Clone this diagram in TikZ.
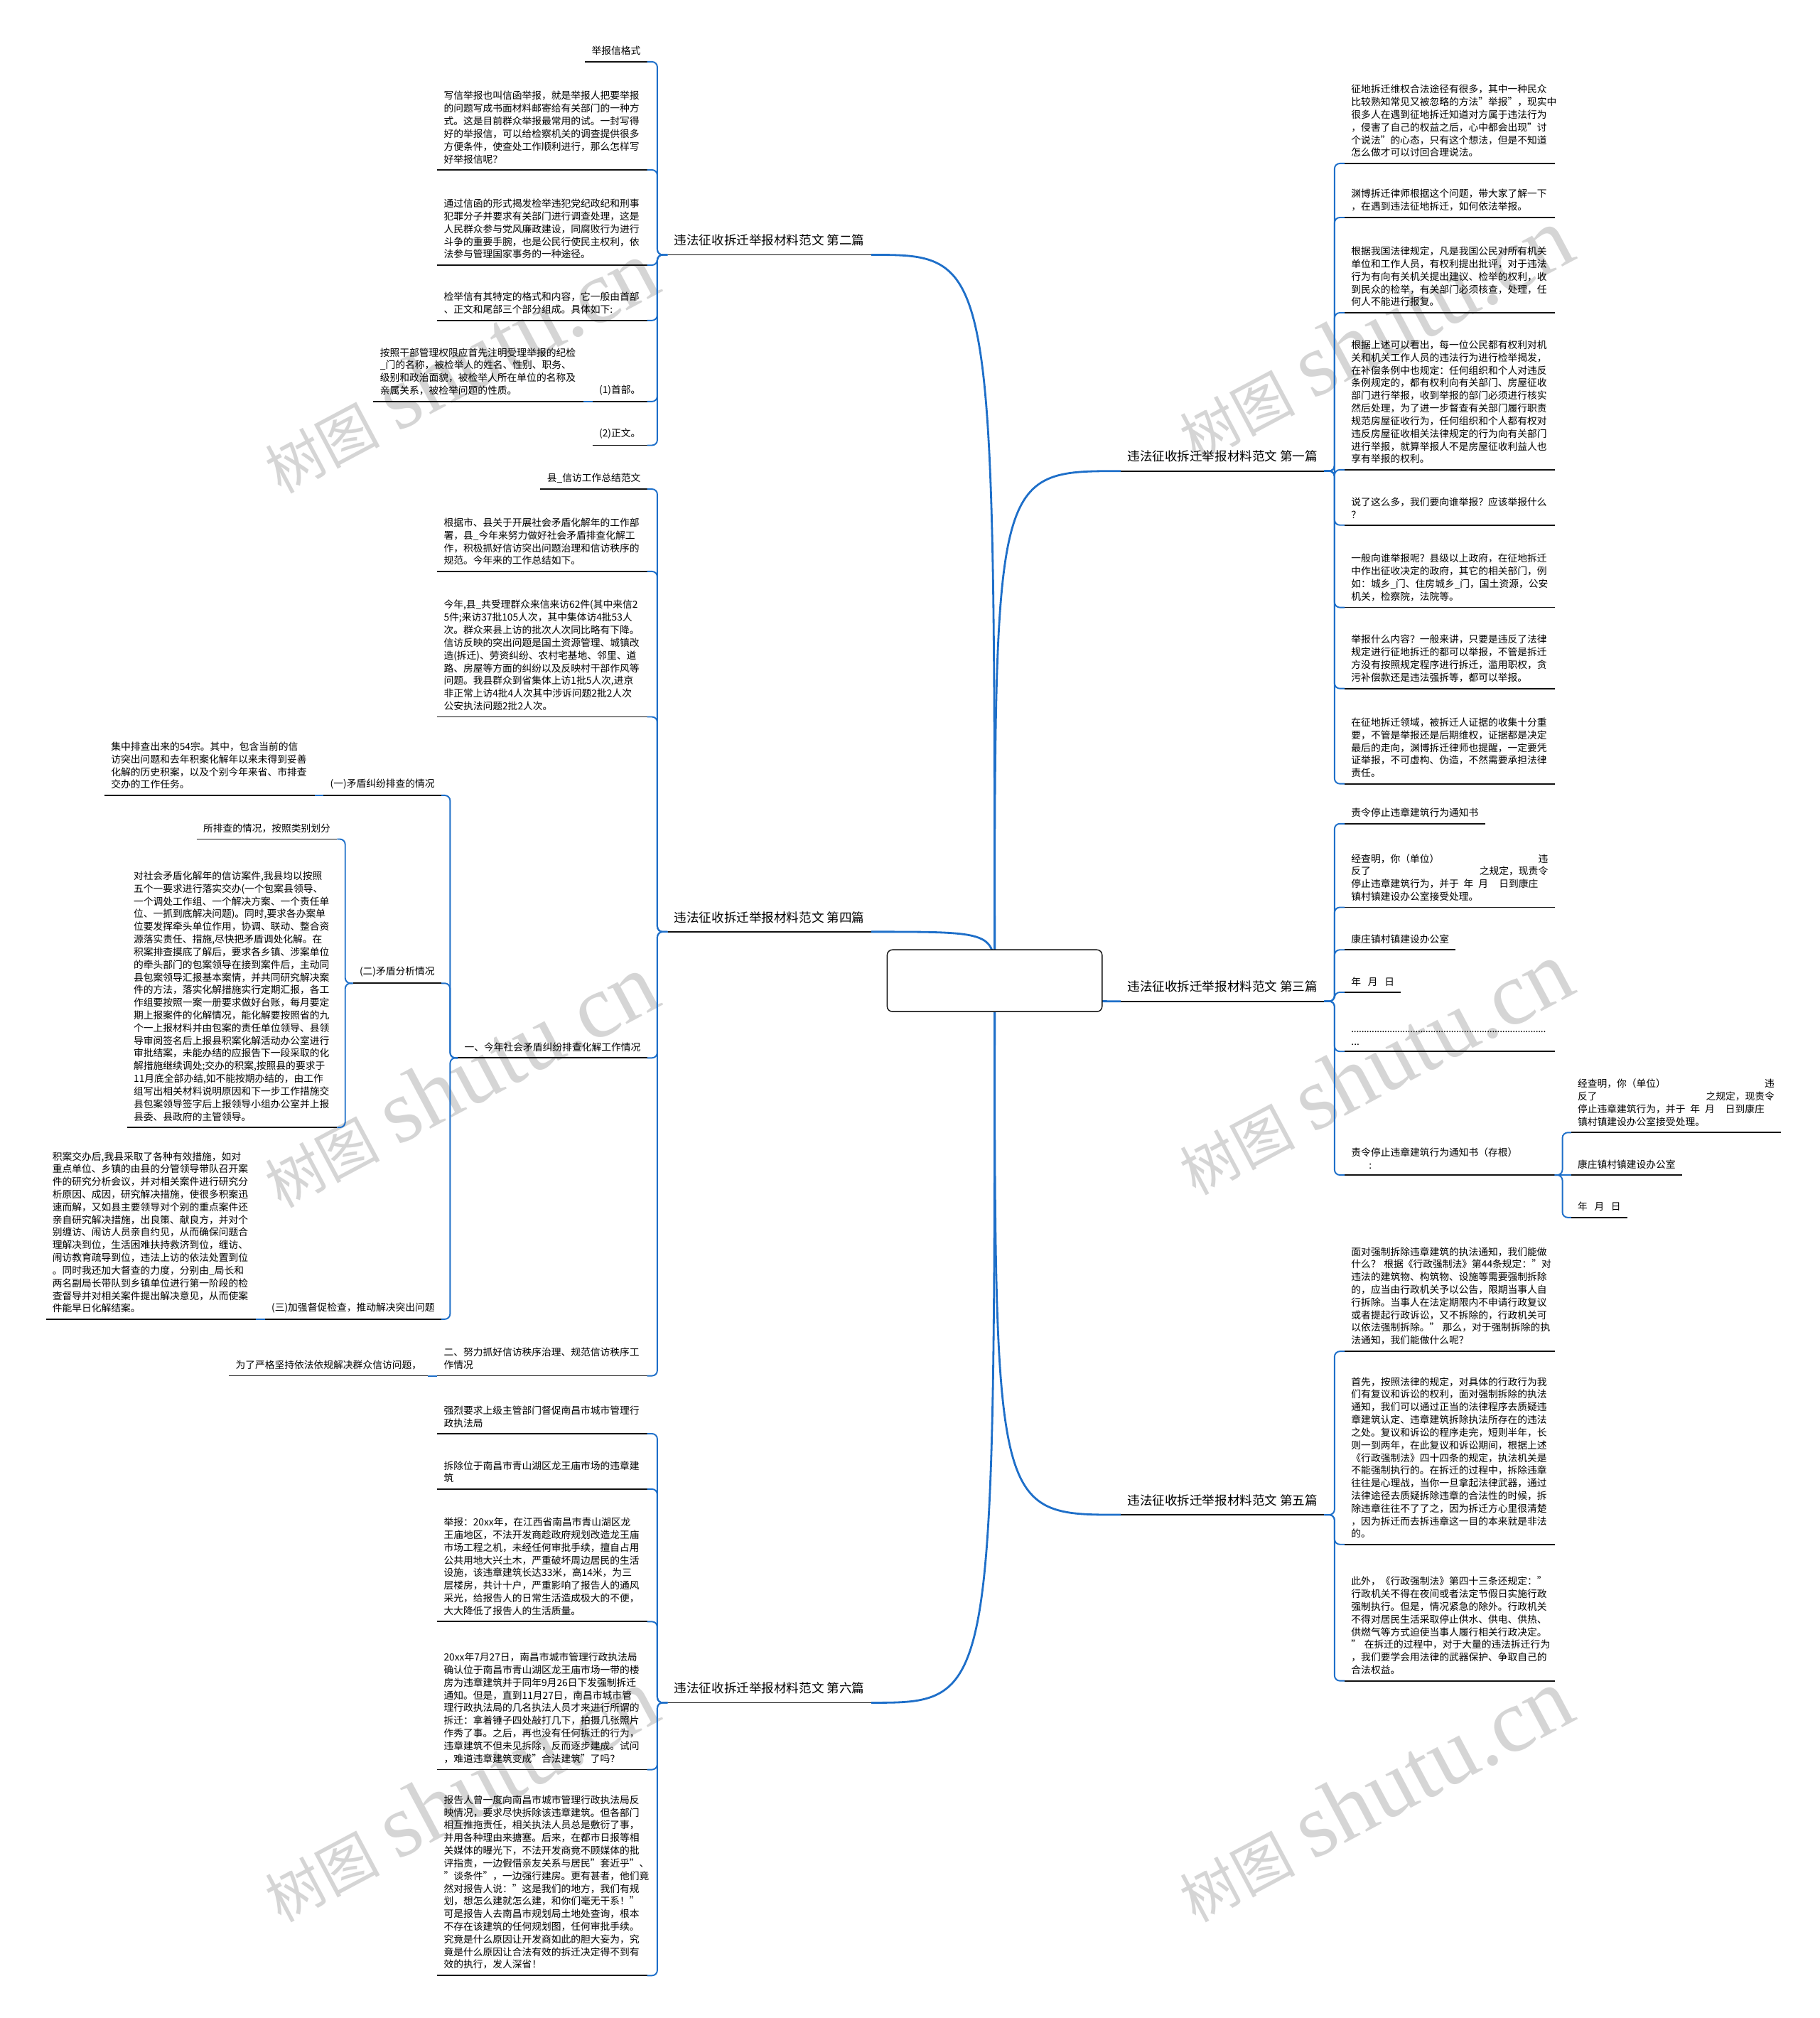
\documentclass[tikz,border=0pt]{standalone}
\usepackage{fontspec}
\setmainfont{Noto Sans CJK SC}
\newfontfamily\marcafont{Liberation Serif}
\usepackage{tikz}
\usetikzlibrary{calc,positioning}
\definecolor{azul}{HTML}{1E6FC9}
\definecolor{tinta}{HTML}{111111}
\definecolor{marcagris}{HTML}{B4B4B4}
\newcommand\hojafont{\fontsize{7.83pt}{10.14pt}\selectfont}
\newcommand\temafont{\fontsize{10pt}{12pt}\selectfont}
\tikzset{
  raiz/.style={draw=tinta,fill=white,rounded corners=1.5mm,line width=0.8pt,minimum width=60.5mm,minimum height=17.4mm},
  subrayado/.style={draw=tinta,line width=1pt},
  hoja/.style={font=\hojafont,align=left,inner xsep=1.81mm,inner ysep=1.7mm,append after command={(\tikzlastnode.south west) edge[subrayado] (\tikzlastnode.south east)}},
  parr/.style={hoja,text width=157.5pt},
  tema/.style={hoja,font=\temafont,inner ysep=2.4mm},
  izq/.style={anchor=south east},
  der/.style={anchor=south west},
  tronco/.style={draw=azul,line width=1.6pt},
  rama/.style={draw=azul,line width=1.1pt,rounded corners=1.5mm},
  marca/.style={text=marcagris,opacity=0.55,rotate=28,inner sep=0pt},
}

\begin{document}
\begin{tikzpicture}[x=0.3621mm,y=-0.3621mm]
\useasboundingbox (0,0) rectangle (1414,1568);
\fill[white] (0,0) rectangle (1414,1568);
\foreach \x/\y [count=\i] in {357/285,1068/260,357/840,1068/830,357/1395,1068/1395}
  \node[marca] (marca\i) at (\x,\y) {\fontsize{46pt}{46pt}\selectfont 树图\hspace{14pt}\marcafont\fontsize{72pt}{72pt}\selectfont shutu.cn};
\coordinate (rc) at (773,762);
\node[tema,izq] (b2) at (677,198) {违法征收拆迁举报材料范文 第二篇};
\node[tema,izq] (b4) at (677,724) {违法征收拆迁举报材料范文 第四篇};
\node[tema,izq] (b6) at (677,1323) {违法征收拆迁举报材料范文 第六篇};
\node[tema,der] (b1) at (871,366) {违法征收拆迁举报材料范文 第一篇};
\node[tema,der] (b3) at (871,778) {违法征收拆迁举报材料范文 第三篇};
\node[tema,der] (b5) at (871,1177) {违法征收拆迁举报材料范文 第五篇};
\node[hoja,izq] (b2a) at (503,48) {举报信格式};
\node[parr,izq] (b2b) at (503,132) {写信举报也叫信函举报，就是举报人把要举报\\
的问题写成书面材料邮寄给有关部门的一种方\\
式。这是目前群众举报最常用的试。一封写得\\
好的举报信，可以给检察机关的调查提供很多\\
方便条件，使查处工作顺利进行，那么怎样写\\
好举报信呢？};
\node[parr,izq] (b2c) at (503,206) {通过信函的形式揭发检举违犯党纪政纪和刑事\\
犯罪分子并要求有关部门进行调查处理，这是\\
人民群众参与党风廉政建设，同腐败行为进行\\
斗争的重要手腕，也是公民行使民主权利，依\\
法参与管理国家事务的一种途径。};
\node[parr,izq] (b2d) at (503,249) {检举信有其特定的格式和内容，它一般由首部\\
、正文和尾部三个部分组成。具体如下:};
\node[hoja,izq] (b2e) at (503,312) {(1)首部。};
\node[parr,izq] (b2e1) at ([shift={(-7,0)}]b2e.south west) {按照干部管理权限应首先注明受理举报的纪检\\
\_门的名称，被检举人的姓名、性别、职务、\\
级别和政治面貌，被检举人所在单位的名称及\\
亲属关系，被检举问题的性质。};
\node[hoja,izq] (b2f) at (503,346) {(2)正文。};
\node[hoja,izq] (b4a) at (503,380) {县\_信访工作总结范文};
\node[parr,izq] (b4b) at (503,444) {根据市、县关于开展社会矛盾化解年的工作部\\
署，县\_今年来努力做好社会矛盾排查化解工\\
作，积极抓好信访突出问题治理和信访秩序的\\
规范。今年来的工作总结如下。};
\node[parr,izq] (b4c) at (503,557) {今年,县\_共受理群众来信来访62件(其中来信2\\
5件;来访37批105人次，其中集体访4批53人\\
次。群众来县上访的批次人次同比略有下降。\\
信访反映的突出问题是国土资源管理、城镇改\\
造(拆迁)、劳资纠纷、农村宅基地、邻里、道\\
路、房屋等方面的纠纷以及反映村干部作风等\\
问题。我县群众到省集体上访1批5人次,进京\\
非正常上访4批4人次其中涉诉问题2批2人次\\
公安执法问题2批2人次。};
\node[hoja,izq] (b4d) at (503,822) {一、今年社会矛盾纠纷排查化解工作情况};
\node[hoja,izq] (b4d1) at (343,618) {(一)矛盾纠纷排查的情况};
\node[parr,izq] (b4d1a) at ([shift={(-7,0)}]b4d1.south west) {集中排查出来的54宗。其中，包含当前的信\\
访突出问题和去年积案化解年以来未得到妥善\\
化解的历史积案，以及个别今年来省、市排查\\
交办的工作任务。};
\node[hoja,izq] (b4d2) at (343,764) {(二)矛盾分析情况};
\node[hoja,izq] (b4d2a) at (262,652) {所排查的情况，按照类别划分};
\node[parr,izq] (b4d2b) at (262,876) {对社会矛盾化解年的信访案件,我县均以按照\\
五个一要求进行落实交办(一个包案县领导、\\
一个调处工作组、一个解决方案、一个责任单\\
位、一抓到底解决问题)。同时,要求各办案单\\
位要发挥牵头单位作用，协调、联动、整合资\\
源落实责任、措施,尽快把矛盾调处化解。在\\
积案排查摸底了解后，要求各乡镇、涉案单位\\
的牵头部门的包案领导在接到案件后，主动同\\
县包案领导汇报基本案情，并共同研究解决案\\
件的方法，落实化解措施实行定期汇报，各工\\
作组要按照一案一册要求做好台账，每月要定\\
期上报案件的化解情况，能化解要按照省的九\\
个一上报材料并由包案的责任单位领导、县领\\
导审阅签名后上报县积案化解活动办公室进行\\
审批结案，未能办结的应报告下一段采取的化\\
解措施继续调处;交办的积案,按照县的要求于\\
11月底全部办结,如不能按期办结的，由工作\\
组写出相关材料说明原因和下一步工作措施交\\
县包案领导签字后上报领导小组办公室并上报\\
县委、县政府的主管领导。};
\node[hoja,izq] (b4d3) at (343,1025) {(三)加强督促检查，推动解决突出问题};
\node[parr,izq] (b4d3a) at ([shift={(-7,0)}]b4d3.south west) {积案交办后,我县采取了各种有效措施，如对\\
重点单位、乡镇的由县的分管领导带队召开案\\
件的研究分析会议，并对相关案件进行研究分\\
析原因、成因，研究解决措施，使很多积案迅\\
速而解，又如县主要领导对个别的重点案件还\\
亲自研究解决措施，出良策、献良方，并对个\\
别缠访、闹访人员亲自约见，从而确保问题合\\
理解决到位，生活困难扶持救济到位，缠访、\\
闹访教育疏导到位，违法上访的依法处置到位\\
。同时我还加大督查的力度，分别由\_局长和\\
两名副局长带队到乡镇单位进行第一阶段的检\\
查督导并对相关案件提出解决意见，从而使案\\
件能早日化解结案。};
\node[parr,izq] (b4e) at (503,1069) {二、努力抓好信访秩序治理、规范信访秩序工\\
作情况};
\node[hoja,izq] (b4e1) at ([shift={(-7,0)}]b4e.south west) {为了严格坚持依法依规解决群众信访问题，};
\node[parr,izq] (b6a) at (503,1114) {强烈要求上级主管部门督促南昌市城市管理行\\
政执法局};
\node[parr,izq] (b6b) at (503,1157) {拆除位于南昌市青山湖区龙王庙市场的违章建\\
筑};
\node[parr,izq] (b6c) at (503,1260) {举报：20xx年，在江西省南昌市青山湖区龙\\
王庙地区，不法开发商趁政府规划改造龙王庙\\
市场工程之机，未经任何审批手续，擅自占用\\
公共用地大兴土木，严重破坏周边居民的生活\\
设施，该违章建筑长达33米，高14米，为三\\
层楼房，共计十户，严重影响了报告人的通风\\
采光，给报告人的日常生活造成极大的不便，\\
大大降低了报告人的生活质量。};
\node[parr,izq] (b6d) at (503,1375) {20xx年7月27日，南昌市城市管理行政执法局\\
确认位于南昌市青山湖区龙王庙市场一带的楼\\
房为违章建筑并于同年9月26日下发强制拆迁\\
通知。但是，直到11月27日，南昌市城市管\\
理行政执法局的几名执法人员才来进行所谓的\\
拆迁：拿着锤子四处敲打几下，拍摄几张照片\\
作秀了事。之后，再也没有任何拆迁的行为，\\
违章建筑不但未见拆除，反而逐步建成。试问\\
，难道违章建筑变成"合法建筑"了吗？};
\node[parr,izq] (b6e) at (503,1535) {报告人曾一度向南昌市城市管理行政执法局反\\
映情况，要求尽快拆除该违章建筑。但各部门\\
相互推拖责任，相关执法人员总是敷衍了事，\\
并用各种理由来搪塞。后来，在都市日报等相\\
关媒体的曝光下，不法开发商竟不顾媒体的批\\
评指责，一边假借亲友关系与居民"套近乎"、\\
"谈条件"，一边强行建房。更有甚者，他们竟\\
然对报告人说："这是我们的地方，我们有规\\
划，想怎么建就怎么建，和你们毫无干系！"\\
可是报告人去南昌市规划局土地处查询，根本\\
不存在该建筑的任何规划图，任何审批手续。\\
究竟是什么原因让开发商如此的胆大妄为，究\\
竟是什么原因让合法有效的拆迁决定得不到有\\
效的执行，发人深省！};
\node[parr,der] (b1a) at (1045,127) {征地拆迁维权合法途径有很多，其中一种民众\\
比较熟知常见又被忽略的方法"举报"，现实中\\
很多人在遇到征地拆迁知道对方属于违法行为\\
，侵害了自己的权益之后，心中都会出现"讨\\
个说法"的心态，只有这个想法，但是不知道\\
怎么做才可以讨回合理说法。};
\node[parr,der] (b1b) at (1045,169) {渊博拆迁律师根据这个问题，带大家了解一下\\
，在遇到违法征地拆迁，如何依法举报。};
\node[parr,der] (b1c) at (1045,243) {根据我国法律规定，凡是我国公民对所有机关\\
单位和工作人员，有权利提出批评，对于违法\\
行为有向有关机关提出建议、检举的权利，收\\
到民众的检举，有关部门必须核查，处理，任\\
何人不能进行报复。};
\node[parr,der] (b1d) at (1045,365) {根据上述可以看出，每一位公民都有权利对机\\
关和机关工作人员的违法行为进行检举揭发，\\
在补偿条例中也规定：任何组织和个人对违反\\
条例规定的，都有权利向有关部门、房屋征收\\
部门进行举报，收到举报的部门必须进行核实\\
然后处理，为了进一步督查有关部门履行职责\\
规范房屋征收行为，任何组织和个人都有权对\\
违反房屋征收相关法律规定的行为向有关部门\\
进行举报，就算举报人不是房屋征收利益人也\\
享有举报的权利。};
\node[parr,der] (b1e) at (1045,408) {说了这么多，我们要向谁举报？应该举报什么\\
？};
\node[parr,der] (b1f) at (1045,472) {一般向谁举报呢？县级以上政府，在征地拆迁\\
中作出征收决定的政府，其它的相关部门，例\\
如：城乡\_门、住房城乡\_门，国土资源，公安\\
机关，检察院，法院等。};
\node[parr,der] (b1g) at (1045,535) {举报什么内容？一般来讲，只要是违反了法律\\
规定进行征地拆迁的都可以举报，不管是拆迁\\
方没有按照规定程序进行拆迁，滥用职权，贪\\
污补偿款还是违法强拆等，都可以举报。};
\node[parr,der] (b1h) at (1045,609) {在征地拆迁领域，被拆迁人证据的收集十分重\\
要，不管是举报还是后期维权，证据都是决定\\
最后的走向，渊博拆迁律师也提醒，一定要凭\\
证举报，不可虚构、伪造，不然需要承担法律\\
责任。};
\node[hoja,der] (b3a) at (1045,640) {责令停止违章建筑行为通知书};
\node[parr,der] (b3b) at (1045,705) {经查明，你（单位）\hspace{\fill}违\\
反了\hspace{\fill}之规定，现责令\\
停止违章建筑行为，并于\hspace{0.5em}年\hspace{0.5em}月\hspace{1.1em}日到康庄\\
镇村镇建设办公室接受处理。};
\node[hoja,der] (b3c) at (1045,738) {康庄镇村镇建设办公室};
\node[hoja,der] (b3d) at (1045,771) {年\hspace{0.7em}月\hspace{0.7em}日};
\node[parr,der] (b3e) at (1045,817) {\leaders\hbox to 2.05pt{\hss.\hss}\hskip 0pt plus 1fill\null\\
...};
\node[parr,der] (b3f) at (1045,913) {责令停止违章建筑行为通知书（存根）\\
\hspace*{1.8em}:};
\node[parr,der] (b3f1) at (1221,880) {经查明，你（单位）\hspace{\fill}违\\
反了\hspace{\fill}之规定，现责令\\
停止违章建筑行为，并于\hspace{0.5em}年\hspace{0.5em}月\hspace{1.1em}日到康庄\\
镇村镇建设办公室接受处理。};
\node[hoja,der] (b3f2) at (1221,913) {康庄镇村镇建设办公室};
\node[hoja,der] (b3f3) at (1221,946) {年\hspace{0.7em}月\hspace{0.7em}日};
\node[parr,der] (b5a) at (1045,1050) {面对强制拆除违章建筑的执法通知，我们能做\\
什么？~根据《行政强制法》第44条规定："对\\
违法的建筑物、构筑物、设施等需要强制拆除\\
的，应当由行政机关予以公告，限期当事人自\\
行拆除。当事人在法定期限内不申请行政复议\\
或者提起行政诉讼，又不拆除的，行政机关可\\
以依法强制拆除。"~那么，对于强制拆除的执\\
法通知，我们能做什么呢？};
\node[parr,der] (b5b) at (1045,1200) {首先，按照法律的规定，对具体的行政行为我\\
们有复议和诉讼的权利，面对强制拆除的执法\\
通知，我们可以通过正当的法律程序去质疑违\\
章建筑认定、违章建筑拆除执法所存在的违法\\
之处。复议和诉讼的程序走完，短则半年，长\\
则一到两年，在此复议和诉讼期间，根据上述\\
《行政强制法》四十四条的规定，执法机关是\\
不能强制执行的。在拆迁的过程中，拆除违章\\
往往是心理战，当你一旦拿起法律武器，通过\\
法律途径去质疑拆除违章的合法性的时候，拆\\
除违章往往不了了之，因为拆迁方心里很清楚\\
，因为拆迁而去拆违章这一目的本来就是非法\\
的。};
\node[parr,der] (b5c) at (1045,1306) {此外，《行政强制法》第四十三条还规定："\\
行政机关不得在夜间或者法定节假日实施行政\\
强制执行。但是，情况紧急的除外。行政机关\\
不得对居民生活采取停止供水、供电、供热、\\
供燃气等方式迫使当事人履行相关行政决定。\\
"~在拆迁的过程中，对于大量的违法拆迁行为\\
，我们要学会用法律的武器保护、争取自己的\\
合法权益。};
\draw[tronco] (rc) .. controls (rc |- b2.south east) .. (b2.south east);
\draw[tronco] (rc) .. controls (rc |- b4.south east) .. (b4.south east);
\draw[tronco] (rc) .. controls (rc |- b6.south east) .. (b6.south east);
\draw[tronco] (rc) .. controls (rc |- b1.south west) .. (b1.south west);
\draw[tronco] (rc) .. controls (rc |- b3.south west) .. (b3.south west);
\draw[tronco] (rc) .. controls (rc |- b5.south west) .. (b5.south west);
\draw[rama] (b2.south west) -- ++(-8,0) |- (b2a.south east);
\draw[rama] (b2.south west) -- ++(-8,0) |- (b2b.south east);
\draw[rama] (b2.south west) -- ++(-8,0) |- (b2c.south east);
\draw[rama] (b2.south west) -- ++(-8,0) |- (b2d.south east);
\draw[rama] (b2.south west) -- ++(-8,0) |- (b2e.south east);
\draw[rama] (b2.south west) -- ++(-8,0) |- (b2f.south east);
\draw[rama] (b2e.south west) -- (b2e1.south east);
\draw[rama] (b4.south west) -- ++(-8,0) |- (b4a.south east);
\draw[rama] (b4.south west) -- ++(-8,0) |- (b4b.south east);
\draw[rama] (b4.south west) -- ++(-8,0) |- (b4c.south east);
\draw[rama] (b4.south west) -- ++(-8,0) |- (b4d.south east);
\draw[rama] (b4.south west) -- ++(-8,0) |- (b4e.south east);
\draw[rama] (b4d.south west) -- ++(-6,0) |- (b4d1.south east);
\draw[rama] (b4d.south west) -- ++(-6,0) |- (b4d2.south east);
\draw[rama] (b4d.south west) -- ++(-6,0) |- (b4d3.south east);
\draw[rama] (b4d1.south west) -- (b4d1a.south east);
\draw[rama] (b4d2.south west) -- ++(-6,0) |- (b4d2a.south east);
\draw[rama] (b4d2.south west) -- ++(-6,0) |- (b4d2b.south east);
\draw[rama] (b4d3.south west) -- (b4d3a.south east);
\draw[rama] (b4e.south west) -- (b4e1.south east);
\draw[rama] (b6.south west) -- ++(-8,0) |- (b6a.south east);
\draw[rama] (b6.south west) -- ++(-8,0) |- (b6b.south east);
\draw[rama] (b6.south west) -- ++(-8,0) |- (b6c.south east);
\draw[rama] (b6.south west) -- ++(-8,0) |- (b6d.south east);
\draw[rama] (b6.south west) -- ++(-8,0) |- (b6e.south east);
\draw[rama] (b1.south east) -- ++(8,0) |- (b1a.south west);
\draw[rama] (b1.south east) -- ++(8,0) |- (b1b.south west);
\draw[rama] (b1.south east) -- ++(8,0) |- (b1c.south west);
\draw[rama] (b1.south east) -- ++(8,0) |- (b1d.south west);
\draw[rama] (b1.south east) -- ++(8,0) |- (b1e.south west);
\draw[rama] (b1.south east) -- ++(8,0) |- (b1f.south west);
\draw[rama] (b1.south east) -- ++(8,0) |- (b1g.south west);
\draw[rama] (b1.south east) -- ++(8,0) |- (b1h.south west);
\draw[rama] (b3.south east) -- ++(8,0) |- (b3a.south west);
\draw[rama] (b3.south east) -- ++(8,0) |- (b3b.south west);
\draw[rama] (b3.south east) -- ++(8,0) |- (b3c.south west);
\draw[rama] (b3.south east) -- ++(8,0) |- (b3d.south west);
\draw[rama] (b3.south east) -- ++(8,0) |- (b3e.south west);
\draw[rama] (b3.south east) -- ++(8,0) |- (b3f.south west);
\draw[rama] (b3f.south east) -- ++(6,0) |- (b3f1.south west);
\draw[rama] (b3f.south east) -- (b3f2.south west);
\draw[rama] (b3f.south east) -- ++(6,0) |- (b3f3.south west);
\draw[rama] (b5.south east) -- ++(8,0) |- (b5a.south west);
\draw[rama] (b5.south east) -- ++(8,0) |- (b5b.south west);
\draw[rama] (b5.south east) -- ++(8,0) |- (b5c.south west);
\node[raiz] (centro) at (rc) {};
\end{tikzpicture}
\end{document}
